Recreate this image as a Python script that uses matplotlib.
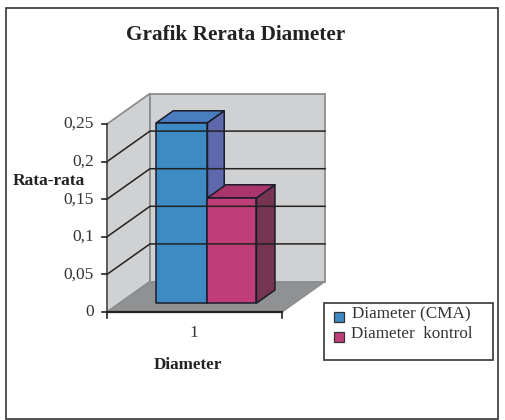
import matplotlib
matplotlib.use("Agg")
import matplotlib.pyplot as plt
from matplotlib.patches import Polygon, Rectangle

plt.rcParams['font.family'] = ['Liberation Serif', 'DejaVu Serif']

# data
categories = ["1"]
series_names = ["Diameter (CMA)", "Diameter  kontrol"]
series_values = [0.24, 0.14]
tick_values = [0, 0.05, 0.1, 0.15, 0.2, 0.25]
tick_labels = ["0", "0,05", "0,1", "0,15", "0,2", "0,25"]

front_colors = ["#3d8ac4", "#bf3d78"]
top_colors = ["#4a7cc0", "#a8366c"]
side_colors = ["#5e68ac", "#753450"]

# pixel layout of the pseudo 3D box
x0, y0 = 107, 312
plot_w = 175
val_scale = 188 / 0.25
depth_x, depth_y = 43, -30.5


def proj(u, v, d=0.0):
    # u = px along floor, v = value, d = depth fraction 0 (front) to 1 (back)
    return (x0 + u + depth_x * d, y0 - v * val_scale + depth_y * d)


fig = plt.figure(figsize=(5.05, 4.2), dpi=100)
ax = fig.add_axes([0, 0, 1, 1])
ax.set_xlim(0, 505)
ax.set_ylim(420, 0)
ax.axis("off")

# outer frame
ax.add_patch(Rectangle((5.5, 7.5), 492.5, 411, fc="white", ec="#333333", lw=1.2))

vmax = tick_values[-1]
wall = "#d0d1d3"
edge = "#8a8c8e"

# floor and walls
ax.add_patch(Polygon([proj(0, 0, 0), proj(plot_w, 0, 0), proj(plot_w, 0, 1), proj(0, 0, 1)],
                     fc="#8f9193", ec=edge, lw=1))
ax.add_patch(Polygon([proj(0, 0, 0), proj(0, 0, 1), proj(0, vmax, 1), proj(0, vmax, 0)],
                     fc=wall, ec=edge, lw=1.3))
ax.add_patch(Polygon([proj(0, 0, 1), proj(plot_w, 0, 1), proj(plot_w, vmax, 1), proj(0, vmax, 1)],
                     fc=wall, ec=edge, lw=1.3))

# gridlines
for v in tick_values[1:-1]:
    a, b, c = proj(0, v, 0), proj(0, v, 1), proj(plot_w, v, 1)
    ax.plot([a[0], b[0], c[0]], [a[1], b[1], c[1]], color="#222222", lw=1.1)

# axes with tick marks
ax.plot([x0, x0], [y0, proj(0, vmax)[1]], color="#555555", lw=1.2)
ax.plot([x0, x0 + plot_w], [y0, y0], color="#222222", lw=1.6)
ax.plot([x0, x0], [y0, y0 + 6], color="#222222", lw=1.2)
ax.plot([x0 + plot_w] * 2, [y0, y0 + 6], color="#222222", lw=1.2)
for v, lab in zip(tick_values, tick_labels):
    px, py = proj(0, v)
    ax.plot([px - 5, px], [py, py], color="#222222", lw=1.2)
    ax.text(px - 13, py, lab, ha="right", va="center", fontsize=12.5, color="#333333")

ax.text(x0 + 87, 333, categories[0], ha="center", va="center", fontsize=12.5, color="#333333")

# bars, second series drawn on top
bar_d0 = 0.29
bar_d1 = [0.68, 0.72]
bar_lefts = [37, 88]
bar_widths = [51, 49]
for val, left, w, d1, fc, tc, sc in zip(series_values, bar_lefts, bar_widths, bar_d1,
                                        front_colors, top_colors, side_colors):
    f = [proj(left, 0, bar_d0), proj(left + w, 0, bar_d0), proj(left + w, val, bar_d0), proj(left, val, bar_d0)]
    s = [proj(left + w, 0, bar_d0), proj(left + w, 0, d1), proj(left + w, val, d1), proj(left + w, val, bar_d0)]
    t = [proj(left, val, bar_d0), proj(left + w, val, bar_d0), proj(left + w, val, d1), proj(left, val, d1)]
    for pts, col in ((s, sc), (t, tc), (f, fc)):
        ax.add_patch(Polygon(pts, fc=col, ec="#1c1c2a", lw=1.1, joinstyle="round"))

# title and axis titles
ax.text(235.5, 34.5, "Grafik Rerata Diameter", ha="center", va="center",
        fontsize=15.3, fontweight="bold", color="#222222")
ax.text(48.5, 181, "Rata-rata", ha="center", va="center", fontsize=12.5, fontweight="bold", color="#222222")
ax.text(187.5, 365, "Diameter", ha="center", va="center", fontsize=12.3, fontweight="bold", color="#222222")

# legend box
ax.add_patch(Rectangle((323.5, 302.5), 169.5, 57.5, fc="white", ec="#444444", lw=1.3))
for name, col, ty, tx, hy in zip(series_names, front_colors, [314.5, 334], [352, 351], [317, 337]):
    ax.add_patch(Rectangle((334, hy - 5), 10, 10, fc=col, ec="#333333", lw=0.9))
    ax.text(tx, ty, name, ha="left", va="center", fontsize=12.3, color="#333333")

fig.savefig("out.png", dpi=100)
